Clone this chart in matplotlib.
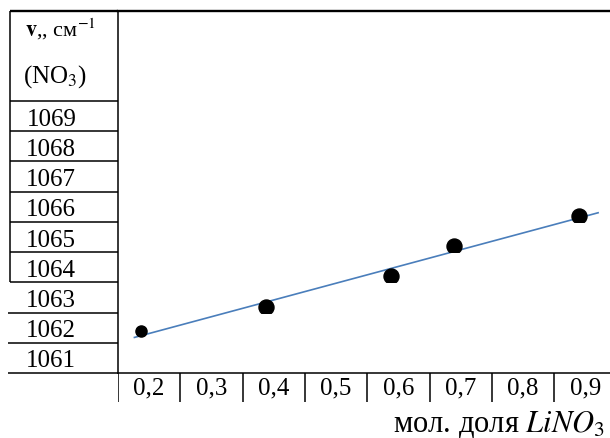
import numpy as np
import matplotlib
matplotlib.use('Agg')
import matplotlib.pyplot as plt
from matplotlib.patches import Rectangle
from matplotlib.transforms import blended_transform_factory

plt.rcParams['font.family'] = ['Liberation Serif', 'DejaVu Serif']
plt.rcParams['mathtext.fontset'] = 'stix'

# data
x_frac = [0.2, 0.4, 0.6, 0.7, 0.9]
nu = [1061.9, 1062.7, 1063.7, 1064.7, 1065.7]
y_ticks = [1061, 1062, 1063, 1064, 1065, 1066, 1067, 1068, 1069]
x_cells = ['0,2', '0,3', '0,4', '0,5', '0,6', '0,7', '0,8', '0,9']
trend_range = [0.19, 0.93]

W, H = 610, 439
fig = plt.figure(figsize=(W / 100, H / 100), dpi=100)
ax = fig.add_axes([118 / W, (H - 374) / H, (610 - 118) / W, (374 - 12) / H])
ax.set_xlim(0.1638, 0.949)
ax.set_ylim(1060.5, 1072.48)

lw = 1.1
ax.spines['right'].set_visible(False)
ax.spines['top'].set_linewidth(1.7)
ax.spines['left'].set_linewidth(lw)
ax.spines['bottom'].set_linewidth(lw)
ax.set_xticks([])
ax.set_yticks(y_ticks)
ax.set_yticklabels([str(v) for v in y_ticks], fontsize=18)
ax.tick_params(axis='y', length=0, pad=30)

# trend line
k, b = np.polyfit(x_frac, nu, 1)
xt = np.array(trend_range)
ax.plot(xt, k * xt + b, color='#4A7EBB', lw=1.2, zorder=2)

# points (partly hidden by the table rows below them)
for i in range(len(x_frac)):
    ms = 8 if i == 0 else 10.8
    pt, = ax.plot(x_frac[i], nu[i], 'o', color='black', ms=ms, zorder=3)
    floor = np.floor(nu[i] - 0.5) + 0.5
    rect = Rectangle((0, floor), 2, 20, transform=ax.transData)
    pt.set_clip_path(rect)

# left column of the table
tr = blended_transform_factory(ax.transAxes, ax.transData)
left = -0.2195
ax.hlines([1069.5, 1068.5, 1067.5, 1066.5, 1065.5, 1064.5, 1063.5], left, 0,
          transform=tr, colors='black', lw=lw, clip_on=False)
ax.hlines([1062.5, 1061.5, 1060.5], left - 0.004, 0,
          transform=tr, colors='black', lw=lw, clip_on=False)
ax.vlines([left], 1063.5, 1072.48, transform=tr, colors='black', lw=lw, clip_on=False)
ax.plot([left, 0], [1, 1], transform=ax.transAxes, color='black', lw=1.7,
        clip_on=False, solid_capstyle='butt')

# header cell
fig.text(25 / W, (H - 37) / H, r'$\mathbf{v}$,, см$^{-1}$', fontsize=16, va='baseline')
fig.text(23 / W, (H - 83) / H, r'(NO$_3$)', fontsize=18, va='baseline')

# bottom row with the x labels
tab = fig.add_axes([118 / W, (H - 403) / H, 8 * 62.3 / W, 29 / H])
tab.set_xlim(0, 8)
tab.set_ylim(0, 1)
tab.axis('off')
tab.vlines(np.arange(0, 8), 0, 1, colors='black', lw=lw)
for i, lab in enumerate(x_cells):
    tab.text(i + 0.5, 0.5, lab, ha='center', va='center', fontsize=18)

fig.text(393 / W, (H - 432) / H, r'мол. доля $LiNO_3$', fontsize=22, va='baseline')

plt.savefig('out.png', dpi=100)
